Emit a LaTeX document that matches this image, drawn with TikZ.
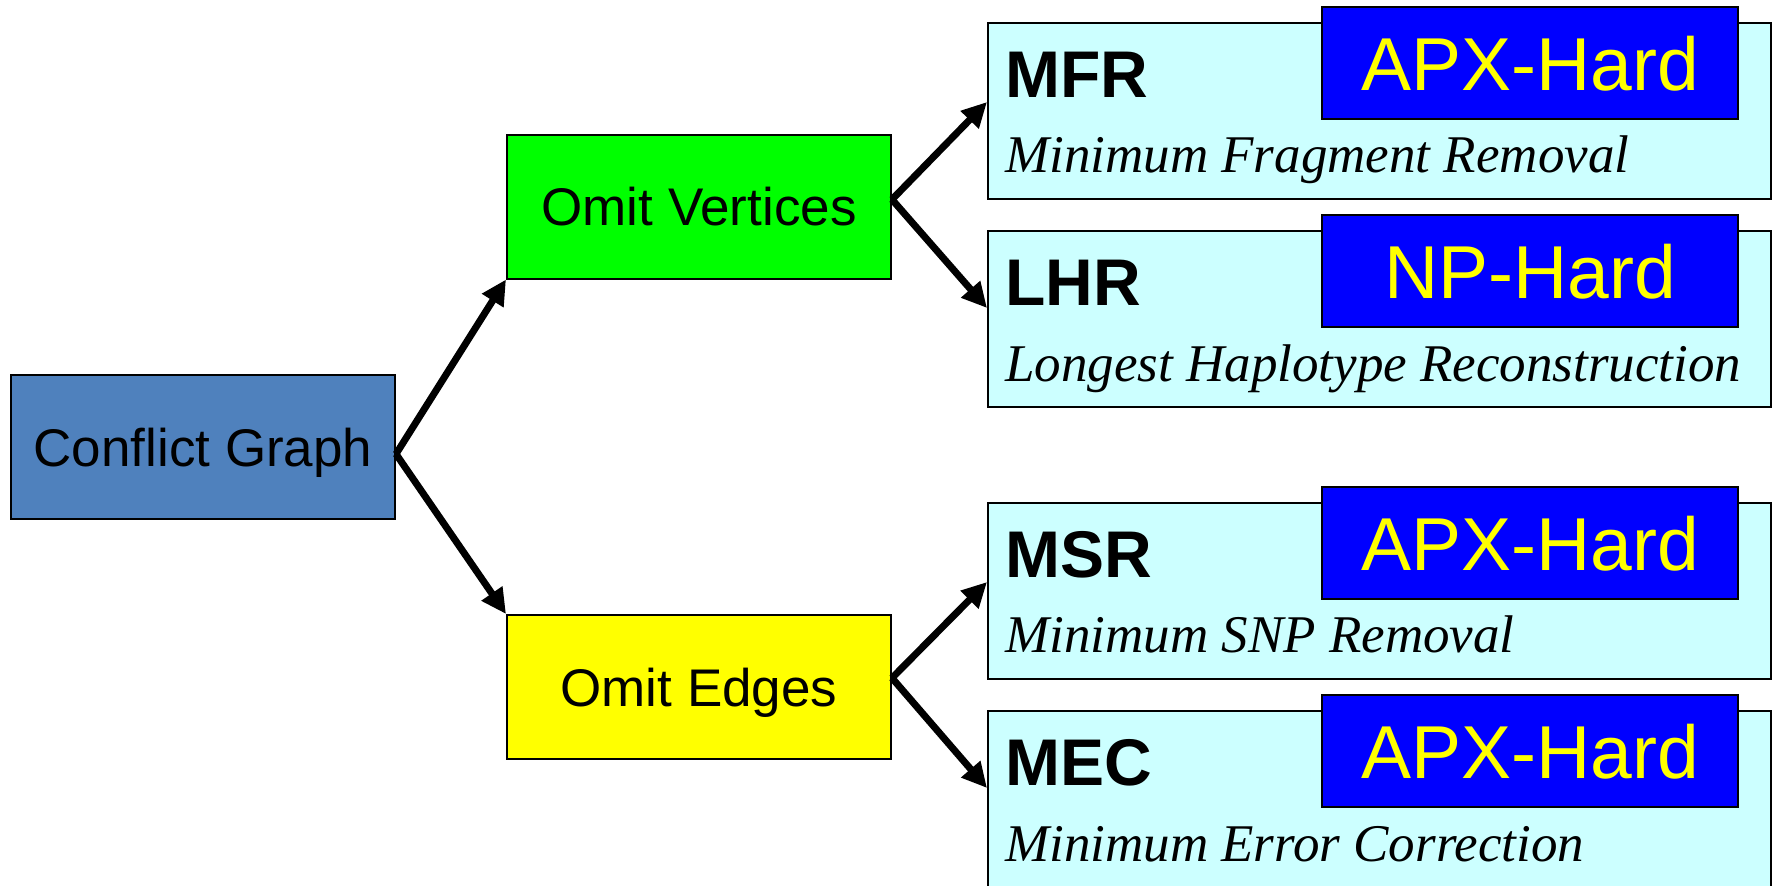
\documentclass[tikz,border=0pt]{standalone}
\usepackage{fontspec}
\setmainfont{Liberation Serif}
\setsansfont{Liberation Sans}
\usetikzlibrary{arrows.meta,calc}

\definecolor{cgblue}{HTML}{4F81BD}
\definecolor{vgreen}{HTML}{00FF00}
\definecolor{eyellow}{HTML}{FFFF00}
\definecolor{probcyan}{HTML}{CCFFFF}
\definecolor{hardblue}{HTML}{0000FF}
\definecolor{hardtext}{HTML}{FFFF00}

\begin{document}
\begin{tikzpicture}[x=1pt,y=-1pt,
  stage/.style={draw=black, line width=2pt, inner sep=0pt,
    minimum width=384pt, minimum height=144pt,
    font=\sffamily\fontsize{53}{60}\selectfont, text height=38pt, text depth=0pt},
  prob/.style={draw=black, line width=2pt, fill=probcyan, inner sep=0pt,
    minimum width=783pt, minimum height=176pt},
  hard/.style={draw=black, line width=2pt, fill=hardblue, text=hardtext, inner sep=0pt,
    minimum width=416pt, minimum height=112pt,
    font=\sffamily\fontsize{75}{80}\selectfont, text height=54pt, text depth=0pt},
  abbr/.style={anchor=base west, inner sep=0pt,
    font=\sffamily\bfseries\fontsize{66}{70}\selectfont},
  longname/.style={anchor=base west, inner sep=0pt,
    font=\rmfamily\itshape\fontsize{53}{60}\selectfont},
  link/.style={line width=7pt, -{Triangle[length=25pt,width=24pt]}}
]
\useasboundingbox (0,0) rectangle (1778,886);

% left and middle stages
\node[stage, fill=cgblue] (cg) at (203,447) {Conflict Graph};
\node[stage, fill=vgreen] (ov) at (699,206.5) {Omit Vertices};
\node[stage, fill=eyellow] (oe) at (699,687) {Omit Edges};

% problem boxes
\node[prob] (mfr) at (1379.5,111) {};
\node[prob] (lhr) at (1379.5,319) {};
\node[prob] (msr) at (1379.5,591) {};
\node[prob, minimum height=180pt] (mec) at (1379.5,801) {};

% complexity badges
\node[hard] (h1) at (1530,63) {APX-Hard};
\node[hard] (h2) at (1530,271) {NP-Hard};
\node[hard] (h3) at (1530,543) {APX-Hard};
\node[hard] (h4) at (1530,751) {APX-Hard};

% problem names
\node[abbr] (a1) at ($(mfr.north west)+(18,75)$) {MFR};
\node[longname] (n1) at ($(mfr.north west)+(18,150)$) {Minimum Fragment Removal};
\node[abbr] (a2) at ($(lhr.north west)+(18,75)$) {LHR};
\node[longname] (n2) at ($(lhr.north west)+(18,151)$) {Longest Haplotype Reconstruction};
\node[abbr] (a3) at ($(msr.north west)+(18,75)$) {MSR};
\node[longname] (n3) at ($(msr.north west)+(18,150)$) {Minimum SNP Removal};
\node[abbr] (a4) at ($(mec.north west)+(18,75)$) {MEC};
\node[longname] (n4) at ($(mec.north west)+(18,151)$) {Minimum Error Correction};

% connectors
\coordinate (cgout) at ($(cg.east)+(0,7)$);
\coordinate (ovout) at ($(ov.east)+(0,-7)$);
\coordinate (oeout) at ($(oe.east)+(0,-9)$);
\draw[link] (cgout) -- (ov.south west);
\draw[link] (cgout) -- (oe.north west);
\draw[link] (ovout) -- ($(mfr.north west)+(0,80)$);
\draw[link] (ovout) -- ($(lhr.north west)+(0,78)$);
\draw[link] (oeout) -- ($(msr.north west)+(0,80)$);
\draw[link] (oeout) -- ($(mec.north west)+(0,78)$);
\end{tikzpicture}
\end{document}
